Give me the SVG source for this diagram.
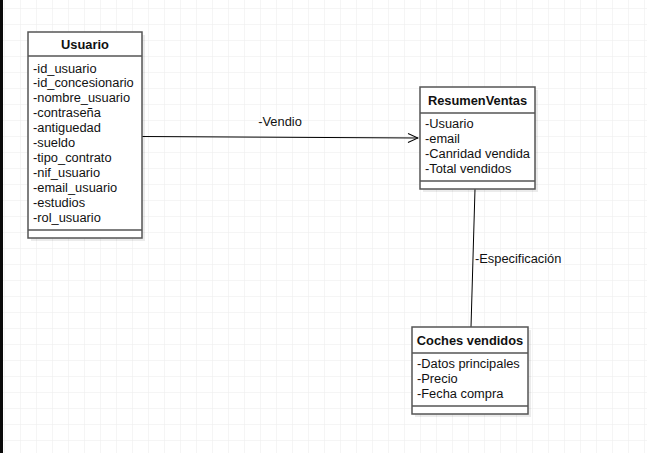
<svg xmlns="http://www.w3.org/2000/svg" width="647" height="453" viewBox="0 0 647 453">
<defs>
<pattern id="grid" x="4" y="8" width="16" height="16" patternUnits="userSpaceOnUse">
<path d="M0 0H16M0 0V16" fill="none" stroke="#ebebeb" stroke-width="1"/>
</pattern>
<marker id="open" viewBox="0 0 12 12" refX="11" refY="6" markerWidth="12" markerHeight="12" markerUnits="userSpaceOnUse" orient="auto">
<path d="M1 1.5L11 6L1 10.5" fill="none" stroke="#000" stroke-width="1"/>
</marker>
</defs>
<style>
.box{fill:#fff;stroke:#555;stroke-width:1.5}
.shadow{fill:#000;opacity:0.08}
.sep{stroke:#555;stroke-width:1.5}
text{font-family:"Liberation Sans",Arial,sans-serif;font-size:12.85px;fill:#111}
.title{font-weight:bold;text-anchor:middle}
.edge{fill:none;stroke:#000;stroke-width:1}
</style>
<rect width="647" height="453" fill="#fff"/>
<rect x="0" y="0" width="647" height="453" fill="url(#grid)"/>
<rect x="0" y="0" width="3" height="453" fill="#0a0a0a"/>

<g id="connectors">
<path class="edge" d="M142 136.5L418 138" marker-end="url(#open)"/>
<text x="280" y="126" text-anchor="middle">-Vendio</text>
<path class="edge" d="M475 189L471 327"/>
<text x="475" y="262.5">-Especificación</text>
</g>

<g id="usuario">
<rect class="shadow" x="31" y="35" width="114" height="206"/>
<rect class="box" x="28" y="32" width="114" height="206"/>
<line class="sep" x1="28" y1="56" x2="142" y2="56"/>
<line class="sep" x1="28" y1="230" x2="142" y2="230"/>
<text class="title" x="85" y="49">Usuario</text>
<text x="33" y="72.5">-id_usuario</text>
<text x="33" y="87.4">-id_concesionario</text>
<text x="33" y="102.3">-nombre_usuario</text>
<text x="33" y="117.2">-contraseña</text>
<text x="33" y="132.1">-antiguedad</text>
<text x="33" y="147">-sueldo</text>
<text x="33" y="161.9">-tipo_contrato</text>
<text x="33" y="176.8">-nif_usuario</text>
<text x="33" y="191.7">-email_usuario</text>
<text x="33" y="206.6">-estudios</text>
<text x="33" y="221.5">-rol_usuario</text>
</g>

<g id="resumenventas">
<rect class="shadow" x="423" y="90" width="115" height="102"/>
<rect class="box" x="420" y="87" width="115" height="102"/>
<line class="sep" x1="420" y1="113" x2="535" y2="113"/>
<line class="sep" x1="420" y1="181" x2="535" y2="181"/>
<text class="title" x="477.5" y="105">ResumenVentas</text>
<text x="425" y="127.5">-Usuario</text>
<text x="425" y="142.5">-email</text>
<text x="425" y="157.5">-Canridad vendida</text>
<text x="425" y="172.5">-Total vendidos</text>
</g>

<g id="coches">
<rect class="shadow" x="415" y="330" width="116" height="87"/>
<rect class="box" x="412" y="327" width="116" height="87"/>
<line class="sep" x1="412" y1="353" x2="528" y2="353"/>
<line class="sep" x1="412" y1="406" x2="528" y2="406"/>
<text class="title" x="470" y="345">Coches vendidos</text>
<text x="417" y="367.5">-Datos principales</text>
<text x="417" y="382.5">-Precio</text>
<text x="417" y="397.5">-Fecha compra</text>
</g>
</svg>
